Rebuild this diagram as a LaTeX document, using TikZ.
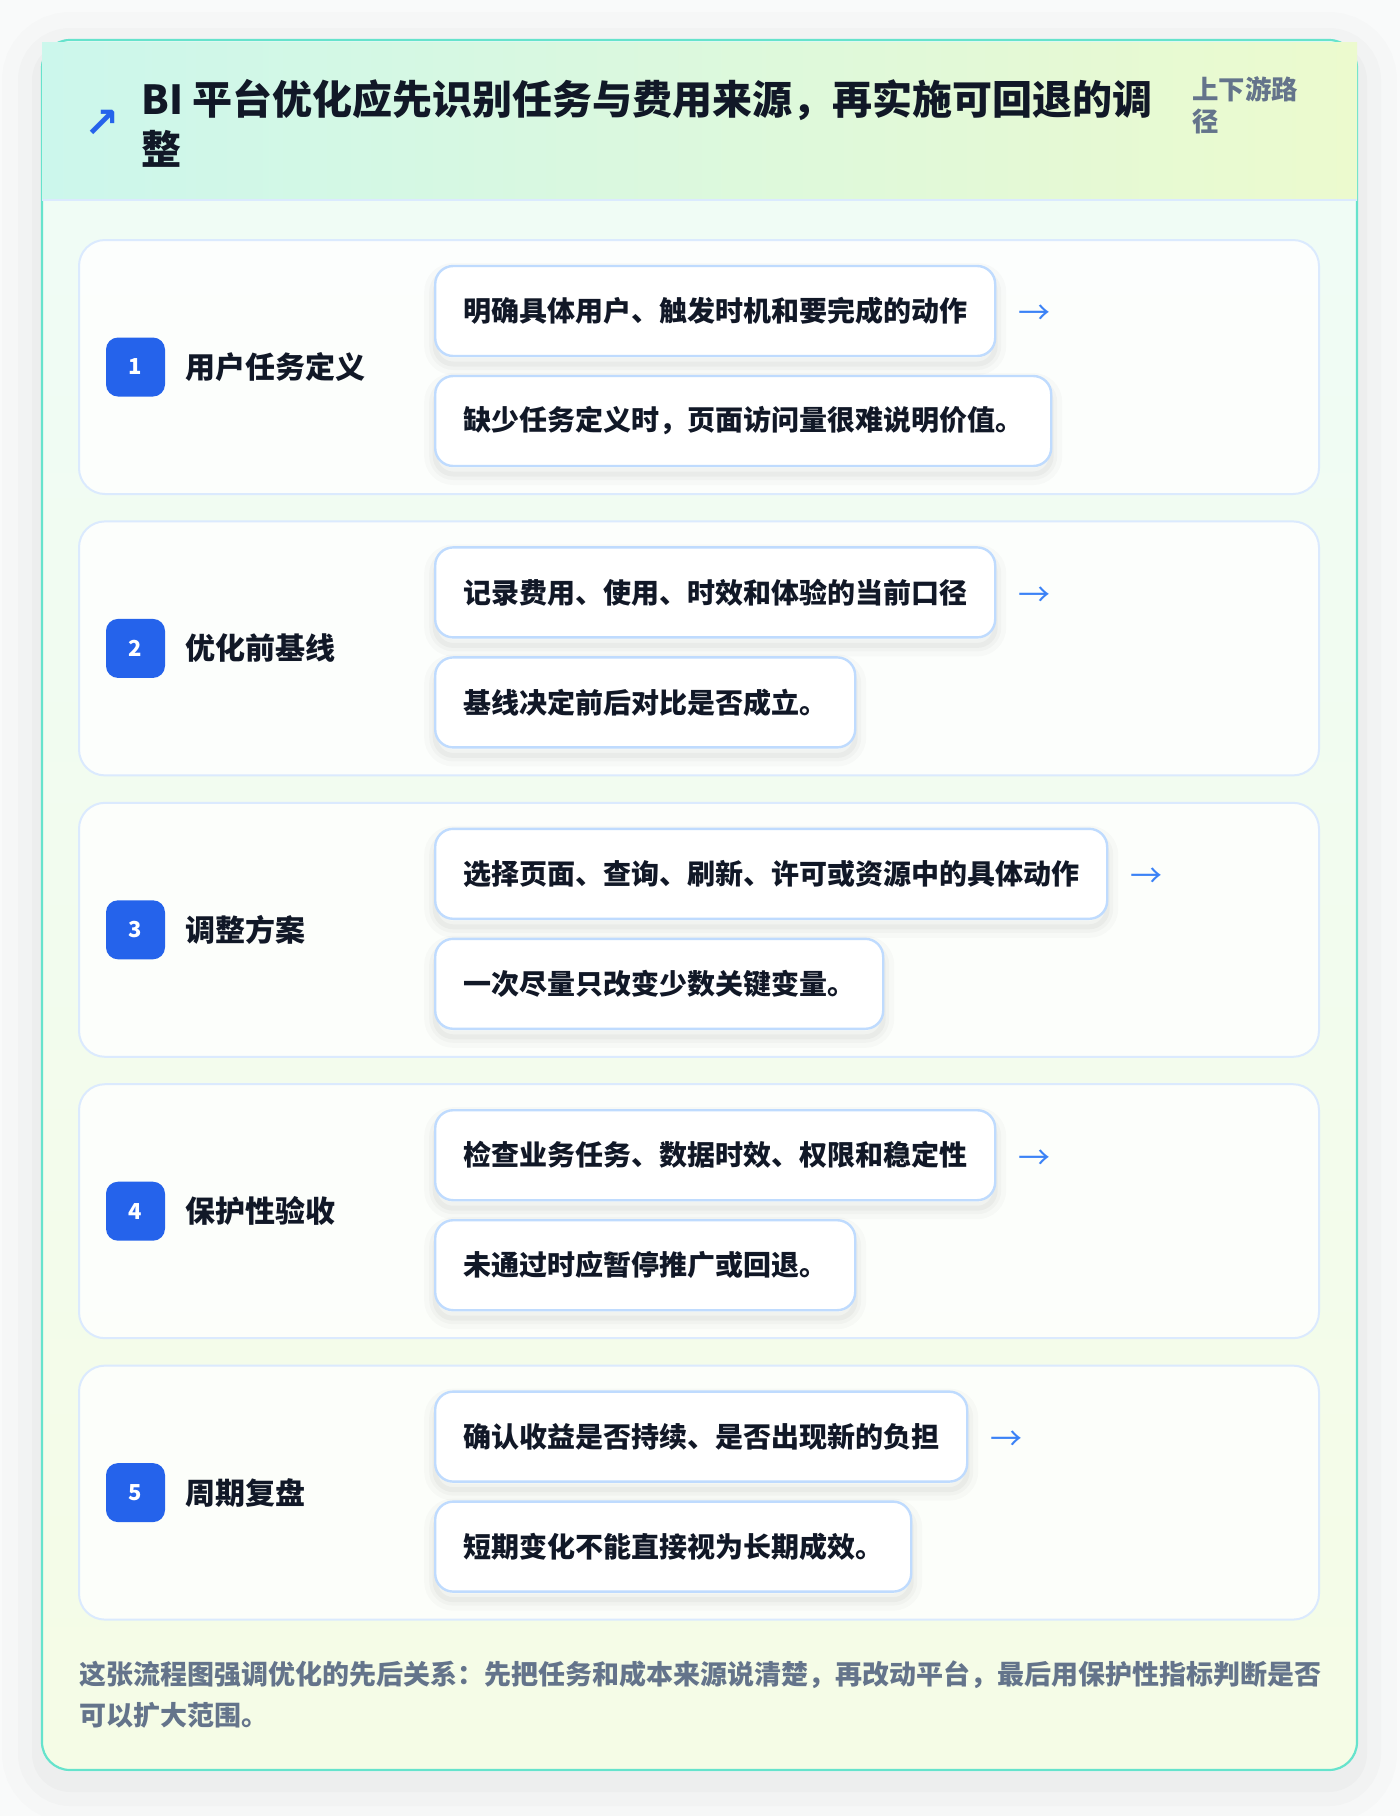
\documentclass[tikz,border=0pt]{standalone}
\usepackage{fontspec}
\setmainfont{Noto Sans CJK SC}
\newfontfamily\symfont{DejaVu Sans}
\usepackage{xcolor}
\usepackage{tikz}

\definecolor{pagebg}{HTML}{F9FAFA}
\definecolor{ink}{HTML}{111827}
\definecolor{muted}{HTML}{64748B}
\definecolor{badgeblue}{HTML}{2563EB}
\definecolor{arrowblue}{HTML}{3B82F6}
\definecolor{boxline}{HTML}{BFDBFE}
\definecolor{panelline}{HTML}{DBEAFE}
\definecolor{cardline}{HTML}{66E3CC}
\definecolor{headleft}{HTML}{CCF7EC}
\definecolor{headright}{HTML}{ECFACE}
\definecolor{cardtop}{HTML}{EFFCF7}
\definecolor{cardbot}{HTML}{F5FCE6}

\tikzset{
	softshadow/.style={
		preaction={draw=black, draw opacity=0.018, line width=11pt, transform canvas={yshift=-4pt}},
		preaction={draw=black, draw opacity=0.022, line width=6pt, transform canvas={yshift=-4pt}},
		preaction={draw=black, draw opacity=0.03, line width=2.5pt, transform canvas={yshift=-4pt}}},
	panel/.style={draw=panelline, line width=1pt, fill=white, fill opacity=0.8,
		rounded corners=13pt, minimum width=620pt, minimum height=127pt},
	badge/.style={fill=badgeblue, text=white, rounded corners=6pt, inner sep=0pt,
		minimum size=29.5pt, font=\bfseries\fontsize{11}{13}\selectfont},
	steplabel/.style={anchor=west, inner sep=0pt, text=ink,
		font=\bfseries\fontsize{15}{18}\selectfont},
	itembox/.style={anchor=west, softshadow, draw=boxline, line width=1.2pt, fill=white,
		rounded corners=9pt, minimum height=45pt, inner xsep=14pt, text=ink,
		font=\bfseries\fontsize{14}{17}\selectfont},
	flowarrow/.style={anchor=west, xshift=11pt, yshift=-2pt, inner sep=0pt, text=arrowblue,
		font=\fontsize{16}{16}\selectfont}
}

\begin{document}
\begin{tikzpicture}[x=0.5pt,y=-0.5pt]
	\useasboundingbox (0,0) rectangle (1400,1816);
	\fill[pagebg] (0,0) rectangle (1400,1816);
	%
	% card and header
	\path[rounded corners=14pt,
		preaction={draw=black, draw opacity=0.012, line width=40pt, transform canvas={yshift=-6pt}},
		preaction={draw=black, draw opacity=0.015, line width=24pt, transform canvas={yshift=-6pt}},
		preaction={draw=black, draw opacity=0.02, line width=10pt, transform canvas={yshift=-6pt}}]
		(42,40) rectangle (1357,1770);
	\shade[top color=cardtop, bottom color=cardbot, rounded corners=14pt] (42,40) rectangle (1357,1770);
	\draw[cardline, line width=1.1pt, rounded corners=14pt] (42,40) rectangle (1357,1770);
	\shade[left color=headleft, right color=headright] (42,42) rectangle (1357,200);
	\draw[panelline, line width=1pt] (42,200) -- (1357,200);
	%
	\node[text=badgeblue, font=\symfont\bfseries\fontsize{21}{21}\selectfont] (icon) at (102,124) {↗};
	\node[anchor=west, align=left, inner sep=0pt, text=ink,
		font=\bfseries\fontsize{20}{25}\selectfont] (title) at (141,123)
		{BI 平台优化应先识别任务与费用来源，再实施可回退的调\\整};
	\node[anchor=west, align=left, inner sep=0pt, text=muted,
		font=\bfseries\fontsize{13.2}{16}\selectfont] (route) at (1192,105) {上下游路\\径};
	%
	% rows
	\node[panel] (p1) at (699,367) {};
	\node[panel] (p2) at (699,648.4) {};
	\node[panel] (p3) at (699,929.8) {};
	\node[panel] (p4) at (699,1211.2) {};
	\node[panel] (p5) at (699,1492.6) {};
	%
	\node[badge] (n1) at (135.5,367) {1};
	\node[badge] (n2) at (135.5,648.4) {2};
	\node[badge] (n3) at (135.5,929.8) {3};
	\node[badge] (n4) at (135.5,1211.2) {4};
	\node[badge] (n5) at (135.5,1492.6) {5};
	%
	\node[steplabel] (l1) at (185,367) {用户任务定义};
	\node[steplabel] (l2) at (185,648.4) {优化前基线};
	\node[steplabel] (l3) at (185,929.8) {调整方案};
	\node[steplabel] (l4) at (185,1211.2) {保护性验收};
	\node[steplabel] (l5) at (185,1492.6) {周期复盘};
	%
	\node[itembox] (b11) at (434,311) {明确具体用户、触发时机和要完成的动作};
	\node[itembox] (b12) at (434,421) {缺少任务定义时，页面访问量很难说明价值。};
	\node[itembox] (b21) at (434,592.4) {记录费用、使用、时效和体验的当前口径};
	\node[itembox] (b22) at (434,702.4) {基线决定前后对比是否成立。};
	\node[itembox] (b31) at (434,873.8) {选择页面、查询、刷新、许可或资源中的具体动作};
	\node[itembox] (b32) at (434,983.8) {一次尽量只改变少数关键变量。};
	\node[itembox] (b41) at (434,1155.2) {检查业务任务、数据时效、权限和稳定性};
	\node[itembox] (b42) at (434,1265.2) {未通过时应暂停推广或回退。};
	\node[itembox] (b51) at (434,1436.6) {确认收益是否持续、是否出现新的负担};
	\node[itembox] (b52) at (434,1546.6) {短期变化不能直接视为长期成效。};
	%
	\node[flowarrow] (a1) at (b11.east) {→};
	\node[flowarrow] (a2) at (b21.east) {→};
	\node[flowarrow] (a3) at (b31.east) {→};
	\node[flowarrow] (a4) at (b41.east) {→};
	\node[flowarrow] (a5) at (b51.east) {→};
	%
	\node[anchor=west, align=left, inner sep=0pt, text=muted,
		font=\bfseries\fontsize{13.5}{20.5}\selectfont] (summary) at (79,1694.5)
		{这张流程图强调优化的先后关系：先把任务和成本来源说清楚，再改动平台，最后用保护性指标判断是否\\可以扩大范围。};
\end{tikzpicture}
\end{document}
